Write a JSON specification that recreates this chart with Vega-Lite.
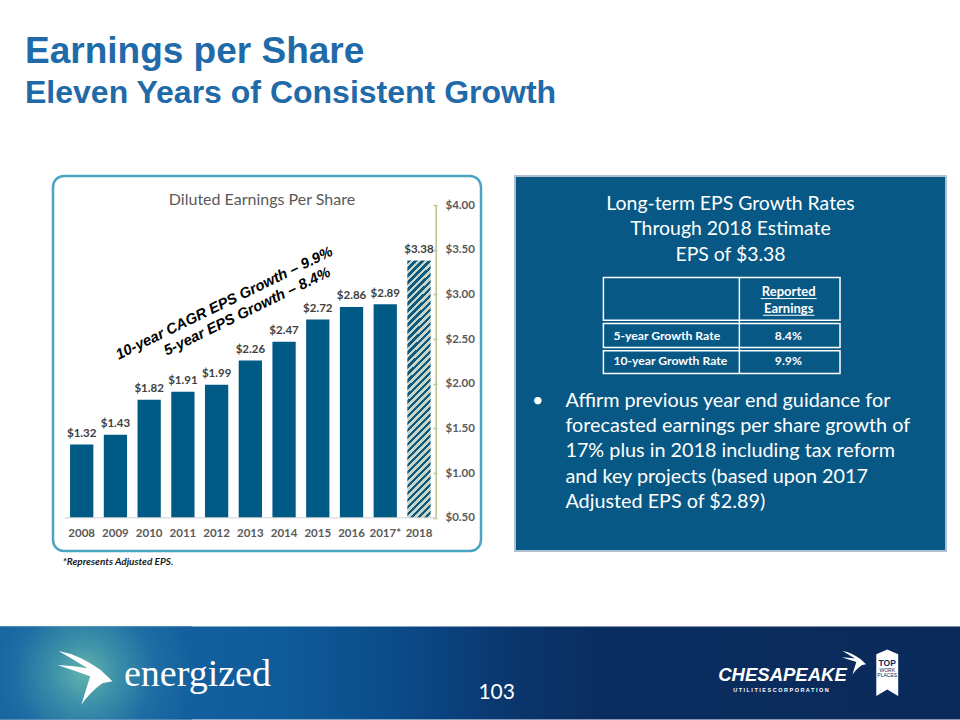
{
"$schema": "https://vega.github.io/schema/vega-lite/v6.json",
"background": "white",
"padding": {"left": 0, "right": 0, "top": 32, "bottom": 0},
"config": {"view": {"stroke": null}, "font": "Lato"},
"title": {
  "text": "Earnings per Share",
  "subtitle": "Eleven Years of Consistent Growth",
  "anchor": "start", "dx": 25, "offset": 64.8,
  "font": "Liberation Sans", "fontSize": 37, "fontWeight": "bold", "color": "#1f6aa8",
  "subtitleFont": "Liberation Sans", "subtitleFontSize": 32, "subtitleFontWeight": "bold", "subtitleColor": "#1f6aa8", "subtitlePadding": 7
},
"spacing": 57.5,
"vconcat": [
 {
  "spacing": 31,
  "hconcat": [
   {"width": 20, "height": 375, "view": {"fill": "white", "stroke": null}, "data": {"values": [{}]}, "mark": {"type": "text", "text": ""}, "encoding": {}},
   {
    "width": 428, "height": 375,
    "view": {"fill": "white", "stroke": "#4ba5c2", "strokeWidth": 2.5, "cornerRadius": 11},
    "title": {"text": "Diluted Earnings Per Share", "font": "Lato", "fontSize": 16, "fontWeight": "normal", "color": "#595959", "anchor": "middle", "offset": -32, "dx": -5},
    "data": {"values": [
      {"year": "2008", "eps": 1.32, "kind": "Reported"},
      {"year": "2009", "eps": 1.43, "kind": "Reported"},
      {"year": "2010", "eps": 1.82, "kind": "Reported"},
      {"year": "2011", "eps": 1.91, "kind": "Reported"},
      {"year": "2012", "eps": 1.99, "kind": "Reported"},
      {"year": "2013", "eps": 2.26, "kind": "Reported"},
      {"year": "2014", "eps": 2.47, "kind": "Reported"},
      {"year": "2015", "eps": 2.72, "kind": "Reported"},
      {"year": "2016", "eps": 2.86, "kind": "Reported"},
      {"year": "2017*", "eps": 2.89, "kind": "Adjusted"},
      {"year": "2018", "eps": 3.38, "kind": "Estimate"}
    ]},
    "layer": [
     {"transform": [{"filter": "datum.kind !== 'Estimate'"}],
      "mark": {"type": "bar", "color": "#005a86"},
      "encoding": {
       "x": {"field": "year", "type": "nominal", "title": null,
             "scale": {"domain": ["2008","2009","2010","2011","2012","2013","2014","2015","2016","2017*","2018"], "paddingInner": 0.31, "paddingOuter": 1.08, "align": 0.253},
             "axis": {"orient": "bottom", "offset": -33.2, "title": null, "labelAngle": 0, "domain": false, "ticks": false, "tickSize": 0, "grid": false, "labelPadding": 9.7, "labelFont": "Lato", "labelFontWeight": "bold", "labelFontSize": 11.5, "labelColor": "#595959"}},
       "y": {"field": "eps", "type": "quantitative", "title": null,
             "scale": {"domain": [0.1285, 4.3245], "zero": false, "nice": false},
             "axis": {"orient": "right", "offset": -48, "title": null, "values": [0.5, 1, 1.5, 2, 2.5, 3, 3.5, 4], "format": "$.2f", "domain": false, "grid": false, "ticks": true, "tickSize": 4, "tickWidth": 1.5, "tickColor": "#b7c48a", "labelPadding": 8, "labelFont": "Lato", "labelFontWeight": "bold", "labelFontSize": 11.5, "labelColor": "#595959"}},
       "y2": {"datum": 0.5}
      }},
     {"transform": [{"filter": "datum.kind === 'Estimate'"}],
      "mark": {"type": "bar", "fill": {"gradient": "linear", "x1": 0, "y1": 0, "x2": 0.0967, "y2": 1.081, "stops": [
        {"offset":0,"color":"#0d5a80"},
        {"offset":0.0125,"color":"#0d5a80"},{"offset":0.0125,"color":"#c9d5c6"},
        {"offset":0.025,"color":"#c9d5c6"},{"offset":0.025,"color":"#0d5a80"},
        {"offset":0.0375,"color":"#0d5a80"},{"offset":0.0375,"color":"#c9d5c6"},
        {"offset":0.05,"color":"#c9d5c6"},{"offset":0.05,"color":"#0d5a80"},
        {"offset":0.0625,"color":"#0d5a80"},{"offset":0.0625,"color":"#c9d5c6"},
        {"offset":0.075,"color":"#c9d5c6"},{"offset":0.075,"color":"#0d5a80"},
        {"offset":0.0875,"color":"#0d5a80"},{"offset":0.0875,"color":"#c9d5c6"},
        {"offset":0.1,"color":"#c9d5c6"},{"offset":0.1,"color":"#0d5a80"},
        {"offset":0.1125,"color":"#0d5a80"},{"offset":0.1125,"color":"#c9d5c6"},
        {"offset":0.125,"color":"#c9d5c6"},{"offset":0.125,"color":"#0d5a80"},
        {"offset":0.1375,"color":"#0d5a80"},{"offset":0.1375,"color":"#c9d5c6"},
        {"offset":0.15,"color":"#c9d5c6"},{"offset":0.15,"color":"#0d5a80"},
        {"offset":0.1625,"color":"#0d5a80"},{"offset":0.1625,"color":"#c9d5c6"},
        {"offset":0.175,"color":"#c9d5c6"},{"offset":0.175,"color":"#0d5a80"},
        {"offset":0.1875,"color":"#0d5a80"},{"offset":0.1875,"color":"#c9d5c6"},
        {"offset":0.2,"color":"#c9d5c6"},{"offset":0.2,"color":"#0d5a80"},
        {"offset":0.2125,"color":"#0d5a80"},{"offset":0.2125,"color":"#c9d5c6"},
        {"offset":0.225,"color":"#c9d5c6"},{"offset":0.225,"color":"#0d5a80"},
        {"offset":0.2375,"color":"#0d5a80"},{"offset":0.2375,"color":"#c9d5c6"},
        {"offset":0.25,"color":"#c9d5c6"},{"offset":0.25,"color":"#0d5a80"},
        {"offset":0.2625,"color":"#0d5a80"},{"offset":0.2625,"color":"#c9d5c6"},
        {"offset":0.275,"color":"#c9d5c6"},{"offset":0.275,"color":"#0d5a80"},
        {"offset":0.2875,"color":"#0d5a80"},{"offset":0.2875,"color":"#c9d5c6"},
        {"offset":0.3,"color":"#c9d5c6"},{"offset":0.3,"color":"#0d5a80"},
        {"offset":0.3125,"color":"#0d5a80"},{"offset":0.3125,"color":"#c9d5c6"},
        {"offset":0.325,"color":"#c9d5c6"},{"offset":0.325,"color":"#0d5a80"},
        {"offset":0.3375,"color":"#0d5a80"},{"offset":0.3375,"color":"#c9d5c6"},
        {"offset":0.35,"color":"#c9d5c6"},{"offset":0.35,"color":"#0d5a80"},
        {"offset":0.3625,"color":"#0d5a80"},{"offset":0.3625,"color":"#c9d5c6"},
        {"offset":0.375,"color":"#c9d5c6"},{"offset":0.375,"color":"#0d5a80"},
        {"offset":0.3875,"color":"#0d5a80"},{"offset":0.3875,"color":"#c9d5c6"},
        {"offset":0.4,"color":"#c9d5c6"},{"offset":0.4,"color":"#0d5a80"},
        {"offset":0.4125,"color":"#0d5a80"},{"offset":0.4125,"color":"#c9d5c6"},
        {"offset":0.425,"color":"#c9d5c6"},{"offset":0.425,"color":"#0d5a80"},
        {"offset":0.4375,"color":"#0d5a80"},{"offset":0.4375,"color":"#c9d5c6"},
        {"offset":0.45,"color":"#c9d5c6"},{"offset":0.45,"color":"#0d5a80"},
        {"offset":0.4625,"color":"#0d5a80"},{"offset":0.4625,"color":"#c9d5c6"},
        {"offset":0.475,"color":"#c9d5c6"},{"offset":0.475,"color":"#0d5a80"},
        {"offset":0.4875,"color":"#0d5a80"},{"offset":0.4875,"color":"#c9d5c6"},
        {"offset":0.5,"color":"#c9d5c6"},{"offset":0.5,"color":"#0d5a80"},
        {"offset":0.5125,"color":"#0d5a80"},{"offset":0.5125,"color":"#c9d5c6"},
        {"offset":0.525,"color":"#c9d5c6"},{"offset":0.525,"color":"#0d5a80"},
        {"offset":0.5375,"color":"#0d5a80"},{"offset":0.5375,"color":"#c9d5c6"},
        {"offset":0.55,"color":"#c9d5c6"},{"offset":0.55,"color":"#0d5a80"},
        {"offset":0.5625,"color":"#0d5a80"},{"offset":0.5625,"color":"#c9d5c6"},
        {"offset":0.575,"color":"#c9d5c6"},{"offset":0.575,"color":"#0d5a80"},
        {"offset":0.5875,"color":"#0d5a80"},{"offset":0.5875,"color":"#c9d5c6"},
        {"offset":0.6,"color":"#c9d5c6"},{"offset":0.6,"color":"#0d5a80"},
        {"offset":0.6125,"color":"#0d5a80"},{"offset":0.6125,"color":"#c9d5c6"},
        {"offset":0.625,"color":"#c9d5c6"},{"offset":0.625,"color":"#0d5a80"},
        {"offset":0.6375,"color":"#0d5a80"},{"offset":0.6375,"color":"#c9d5c6"},
        {"offset":0.65,"color":"#c9d5c6"},{"offset":0.65,"color":"#0d5a80"},
        {"offset":0.6625,"color":"#0d5a80"},{"offset":0.6625,"color":"#c9d5c6"},
        {"offset":0.675,"color":"#c9d5c6"},{"offset":0.675,"color":"#0d5a80"},
        {"offset":0.6875,"color":"#0d5a80"},{"offset":0.6875,"color":"#c9d5c6"},
        {"offset":0.7,"color":"#c9d5c6"},{"offset":0.7,"color":"#0d5a80"},
        {"offset":0.7125,"color":"#0d5a80"},{"offset":0.7125,"color":"#c9d5c6"},
        {"offset":0.725,"color":"#c9d5c6"},{"offset":0.725,"color":"#0d5a80"},
        {"offset":0.7375,"color":"#0d5a80"},{"offset":0.7375,"color":"#c9d5c6"},
        {"offset":0.75,"color":"#c9d5c6"},{"offset":0.75,"color":"#0d5a80"},
        {"offset":0.7625,"color":"#0d5a80"},{"offset":0.7625,"color":"#c9d5c6"},
        {"offset":0.775,"color":"#c9d5c6"},{"offset":0.775,"color":"#0d5a80"},
        {"offset":0.7875,"color":"#0d5a80"},{"offset":0.7875,"color":"#c9d5c6"},
        {"offset":0.8,"color":"#c9d5c6"},{"offset":0.8,"color":"#0d5a80"},
        {"offset":0.8125,"color":"#0d5a80"},{"offset":0.8125,"color":"#c9d5c6"},
        {"offset":0.825,"color":"#c9d5c6"},{"offset":0.825,"color":"#0d5a80"},
        {"offset":0.8375,"color":"#0d5a80"},{"offset":0.8375,"color":"#c9d5c6"},
        {"offset":0.85,"color":"#c9d5c6"},{"offset":0.85,"color":"#0d5a80"},
        {"offset":0.8625,"color":"#0d5a80"},{"offset":0.8625,"color":"#c9d5c6"},
        {"offset":0.875,"color":"#c9d5c6"},{"offset":0.875,"color":"#0d5a80"},
        {"offset":0.8875,"color":"#0d5a80"},{"offset":0.8875,"color":"#c9d5c6"},
        {"offset":0.9,"color":"#c9d5c6"},{"offset":0.9,"color":"#0d5a80"},
        {"offset":0.9125,"color":"#0d5a80"},{"offset":0.9125,"color":"#c9d5c6"},
        {"offset":0.925,"color":"#c9d5c6"},{"offset":0.925,"color":"#0d5a80"},
        {"offset":0.9375,"color":"#0d5a80"},{"offset":0.9375,"color":"#c9d5c6"},
        {"offset":0.95,"color":"#c9d5c6"},{"offset":0.95,"color":"#0d5a80"},
        {"offset":0.9625,"color":"#0d5a80"},{"offset":0.9625,"color":"#c9d5c6"},
        {"offset":0.975,"color":"#c9d5c6"},{"offset":0.975,"color":"#0d5a80"},
        {"offset":0.9875,"color":"#0d5a80"},{"offset":0.9875,"color":"#c9d5c6"},
        {"offset":1,"color":"#c9d5c6"}
      ]}},
      "encoding": {
       "x": {"field": "year", "type": "nominal", "title": null},
       "y": {"field": "eps", "type": "quantitative", "title": null},
       "y2": {"datum": 0.5}
      }},
     {"mark": {"type": "text", "baseline": "bottom", "dy": -5.5, "font": "Lato", "fontWeight": "bold", "fontSize": 11.5, "color": "#404040"},
      "encoding": {
       "x": {"field": "year", "type": "nominal", "title": null},
       "y": {"field": "eps", "type": "quantitative", "title": null},
       "text": {"field": "eps", "type": "quantitative", "format": "$.2f"}
      }},
     {"data": {"values": [{}]},
      "mark": {"type": "rule", "color": "#b7c48a", "strokeWidth": 1.5, "xOffset": 17.2},
      "encoding": {"x": {"datum": "2018", "title": null}, "y": {"datum": 0.5, "title": null}, "y2": {"datum": 4}}},
     {"data": {"values": [{}]},
      "mark": {"type": "rule", "color": "#d0d0d0", "strokeWidth": 1, "xOffset": -17.2, "x2Offset": 17.2},
      "encoding": {"x": {"datum": "2008", "title": null}, "x2": {"datum": "2018"}, "y": {"datum": 0.5, "title": null}}},
     {"data": {"values": [{"note": "10-year CAGR EPS Growth – 9.9%"}]},
      "mark": {"type": "text", "angle": 334, "font": "Liberation Sans", "fontStyle": "italic", "fontWeight": "bold", "fontSize": 14.8, "color": "#000000", "xOffset": 7.9},
      "encoding": {"x": {"datum": "2012", "title": null}, "y": {"datum": 2.896, "title": null}, "text": {"field": "note"}}},
     {"data": {"values": [{"note": "5-year EPS Growth – 8.4%"}]},
      "mark": {"type": "text", "angle": 334, "font": "Liberation Sans", "fontStyle": "italic", "fontWeight": "bold", "fontSize": 14.8, "color": "#000000", "xOffset": -2.95},
      "encoding": {"x": {"datum": "2013", "title": null}, "y": {"datum": 2.803, "title": null}, "text": {"field": "note"}}},
     {"data": {"values": [{"note": "*Represents Adjusted EPS."}]},
      "mark": {"type": "text", "align": "left", "baseline": "middle", "font": "Lato", "fontStyle": "italic", "fontWeight": "bold", "fontSize": 10, "color": "#1a1a1a", "xOffset": -18.9},
      "encoding": {"x": {"datum": "2008", "title": null}, "y": {"datum": 0, "title": null}, "text": {"field": "note"}}}
    ]
   },
   {
    "width": 431, "height": 375,
    "view": {"fill": "#075884", "stroke": "#b0c0d0", "strokeWidth": 2},
    "data": {"values": [{}]},
    "layer": [
     {"mark": {"type": "text", "text": ["Long-term EPS Growth Rates", "Through 2018 Estimate", "EPS of $3.38"], "lineHeight": 25.5, "font": "Lato", "fontSize": 19.4, "color": "white"},
      "encoding": {"x": {"datum": 50, "type": "quantitative", "scale": {"domain": [0, 100]}, "axis": null}, "y": {"datum": 7.38, "type": "quantitative", "scale": {"domain": [0, 100], "reverse": true}, "axis": null}}},
     {"mark": {"type": "rect", "fillOpacity": 0, "stroke": "white", "strokeWidth": 1.5},
      "encoding": {"x": {"datum": 20.51, "axis": null}, "x2": {"datum": 75.41}, "y": {"datum": 27.09, "axis": null}, "y2": {"datum": 38.47}}},
     {"mark": {"type": "rect", "fillOpacity": 0, "stroke": "white", "strokeWidth": 1.5},
      "encoding": {"x": {"datum": 20.51, "axis": null}, "x2": {"datum": 75.41}, "y": {"datum": 39.34, "axis": null}, "y2": {"datum": 45.74}}},
     {"mark": {"type": "rect", "fillOpacity": 0, "stroke": "white", "strokeWidth": 1.5},
      "encoding": {"x": {"datum": 20.51, "axis": null}, "x2": {"datum": 75.41}, "y": {"datum": 46.62, "axis": null}, "y2": {"datum": 52.66}}},
     {"mark": {"type": "rule", "color": "white", "strokeWidth": 1.5},
      "encoding": {"x": {"datum": 52.06, "axis": null}, "y": {"datum": 27.09, "axis": null}, "y2": {"datum": 52.66}}},
     {"mark": {"type": "text", "text": ["Reported", "Earnings"], "lineHeight": 16.7, "font": "Lato", "fontWeight": "bold", "fontSize": 13, "color": "white"},
      "encoding": {"x": {"datum": 63.5, "axis": null}, "y": {"datum": 30.9, "axis": null}}},
     {"mark": {"type": "rule", "color": "white", "strokeWidth": 1},
      "encoding": {"x": {"datum": 57.0, "axis": null}, "x2": {"datum": 70.0}, "y": {"datum": 32.69, "axis": null}}},
     {"mark": {"type": "rule", "color": "white", "strokeWidth": 1},
      "encoding": {"x": {"datum": 57.5, "axis": null}, "x2": {"datum": 69.5}, "y": {"datum": 37.13, "axis": null}}},
     {"mark": {"type": "text", "text": "5-year Growth Rate", "align": "left", "font": "Lato", "fontWeight": "bold", "fontSize": 12.2, "color": "white"},
      "encoding": {"x": {"datum": 22.83, "axis": null}, "y": {"datum": 42.62, "axis": null}}},
     {"mark": {"type": "text", "text": "8.4%", "font": "Lato", "fontWeight": "bold", "fontSize": 12.2, "color": "white"},
      "encoding": {"x": {"datum": 63.43, "axis": null}, "y": {"datum": 42.62, "axis": null}}},
     {"mark": {"type": "text", "text": "10-year Growth Rate", "align": "left", "font": "Lato", "fontWeight": "bold", "fontSize": 12.2, "color": "white"},
      "encoding": {"x": {"datum": 22.83, "axis": null}, "y": {"datum": 49.28, "axis": null}}},
     {"mark": {"type": "text", "text": "9.9%", "font": "Lato", "fontWeight": "bold", "fontSize": 12.2, "color": "white"},
      "encoding": {"x": {"datum": 63.43, "axis": null}, "y": {"datum": 49.28, "axis": null}}},
     {"mark": {"type": "text", "text": "•", "font": "Lato", "fontSize": 19.8, "color": "white"},
      "encoding": {"x": {"datum": 5.3, "axis": null}, "y": {"datum": 59.94, "axis": null}}},
     {"mark": {"type": "text", "text": ["Affirm previous year end guidance for", "forecasted earnings per share growth of", "17% plus in 2018 including tax reform", "and key projects (based upon 2017", "Adjusted EPS of $2.89)"], "align": "left", "lineHeight": 25.3, "font": "Lato", "fontSize": 19.8, "color": "white"},
      "encoding": {"x": {"datum": 11.7, "axis": null}, "y": {"datum": 59.94, "axis": null}}}
    ]
   }
  ]
 },
 {
  "width": 960, "height": 93,
  "data": {"values": [{}]},
  "layer": [
   {"mark": {"type": "rect", "fill": {"gradient": "linear", "x1": 0, "y1": 0, "x2": 1, "y2": 0, "stops": [
      {"offset": 0, "color": "#14609e"}, {"offset": 0.2, "color": "#14609e"}, {"offset": 0.3, "color": "#0f5a98"},
      {"offset": 0.42, "color": "#0b4a88"}, {"offset": 0.52, "color": "#0a3870"}, {"offset": 0.62, "color": "#0a2d60"}, {"offset": 1, "color": "#0a2a5a"}]}},
    "encoding": {"x": {"datum": 0, "type": "quantitative", "scale": {"domain": [0, 100]}, "axis": null}, "x2": {"datum": 100}, "y": {"datum": 0, "type": "quantitative", "scale": {"domain": [0, 100], "reverse": true}, "axis": null}, "y2": {"datum": 100}}},
   {"mark": {"type": "rect", "fill": {"gradient": "radial", "x1": 0.44, "y1": 0.5, "r1": 0, "x2": 0.44, "y2": 0.5, "r2": 0.56, "stops": [
      {"offset": 0, "color": "#63b3ad"}, {"offset": 0.3, "color": "#3c90a8"}, {"offset": 0.65, "color": "#1e6da3"}, {"offset": 1, "color": "#14609e"}]}},
    "encoding": {"x": {"datum": 0, "axis": null}, "x2": {"datum": 20}, "y": {"datum": 0, "axis": null}, "y2": {"datum": 100}}},
   {"mark": {"type": "point", "shape": "M-0.96,-0.98 Q-0.2,-0.85 0.56,-0.29 L1,0.12 L0.63,0.2 Q0.15,0.55 -0.13,0.98 Q0,0.55 0.19,-0.06 Q-0.1,-0.17 -1,-0.47 Q-0.5,-0.45 0.09,-0.35 Q-0.3,-0.6 -0.96,-0.98 Z", "filled": true, "opacity": 1, "color": "white", "size": 3025, "strokeWidth": 0},
    "encoding": {"x": {"datum": 8.85, "axis": null}, "y": {"datum": 55.2, "axis": null}}},
   {"mark": {"type": "text", "text": "energized", "font": "Liberation Serif", "fontSize": 38, "color": "white", "baseline": "alphabetic"},
    "encoding": {"x": {"datum": 20.57, "axis": null}, "y": {"datum": 64.2, "axis": null}}},
   {"mark": {"type": "text", "text": "103", "font": "Lato", "fontSize": 21, "color": "white"},
    "encoding": {"x": {"datum": 51.74, "axis": null}, "y": {"datum": 71.3, "axis": null}}},
   {"mark": {"type": "text", "text": "CHESAPEAKE", "font": "Liberation Sans", "fontStyle": "italic", "fontWeight": "bold", "fontSize": 18.5, "color": "white", "baseline": "alphabetic"},
    "encoding": {"x": {"datum": 81.51, "axis": null}, "y": {"datum": 59.1, "axis": null}}},
   {"mark": {"type": "text", "text": "U T I L I T I E S   C O R P O R A T I O N", "font": "Liberation Sans", "fontWeight": "bold", "fontSize": 5.5, "color": "white"},
    "encoding": {"x": {"datum": 81.35, "axis": null}, "y": {"datum": 68.3, "axis": null}}},
   {"mark": {"type": "point", "shape": "M-0.96,-0.98 Q-0.2,-0.85 0.56,-0.29 L1,0.12 L0.63,0.2 Q0.15,0.55 -0.13,0.98 Q0,0.55 0.19,-0.06 Q-0.1,-0.17 -1,-0.47 Q-0.5,-0.45 0.09,-0.35 Q-0.3,-0.6 -0.96,-0.98 Z", "filled": true, "opacity": 1, "color": "white", "size": 576, "strokeWidth": 0},
    "encoding": {"x": {"datum": 88.96, "axis": null}, "y": {"datum": 39.03, "axis": null}}},
   {"mark": {"type": "point", "shape": "M-0.47,-0.8 L0,-1 L0.47,-0.8 L0.47,1 L0,0.72 L-0.47,1 Z", "filled": true, "opacity": 1, "color": "white", "size": 2172, "strokeWidth": 0},
    "encoding": {"x": {"datum": 92.42, "axis": null}, "y": {"datum": 49.8, "axis": null}}},
   {"mark": {"type": "text", "text": "TOP", "font": "Liberation Sans", "fontWeight": "bold", "fontSize": 8.5, "color": "#0a2a5a"},
    "encoding": {"x": {"datum": 92.42, "axis": null}, "y": {"datum": 39.0, "axis": null}}},
   {"mark": {"type": "text", "text": "WORK", "font": "Liberation Sans", "fontSize": 5, "color": "#0a2a5a"},
    "encoding": {"x": {"datum": 92.42, "axis": null}, "y": {"datum": 46.8, "axis": null}}},
   {"mark": {"type": "text", "text": "PLACES", "font": "Liberation Sans", "fontSize": 5, "color": "#0a2a5a"},
    "encoding": {"x": {"datum": 92.42, "axis": null}, "y": {"datum": 52.2, "axis": null}}}
  ]
 }
]
}
